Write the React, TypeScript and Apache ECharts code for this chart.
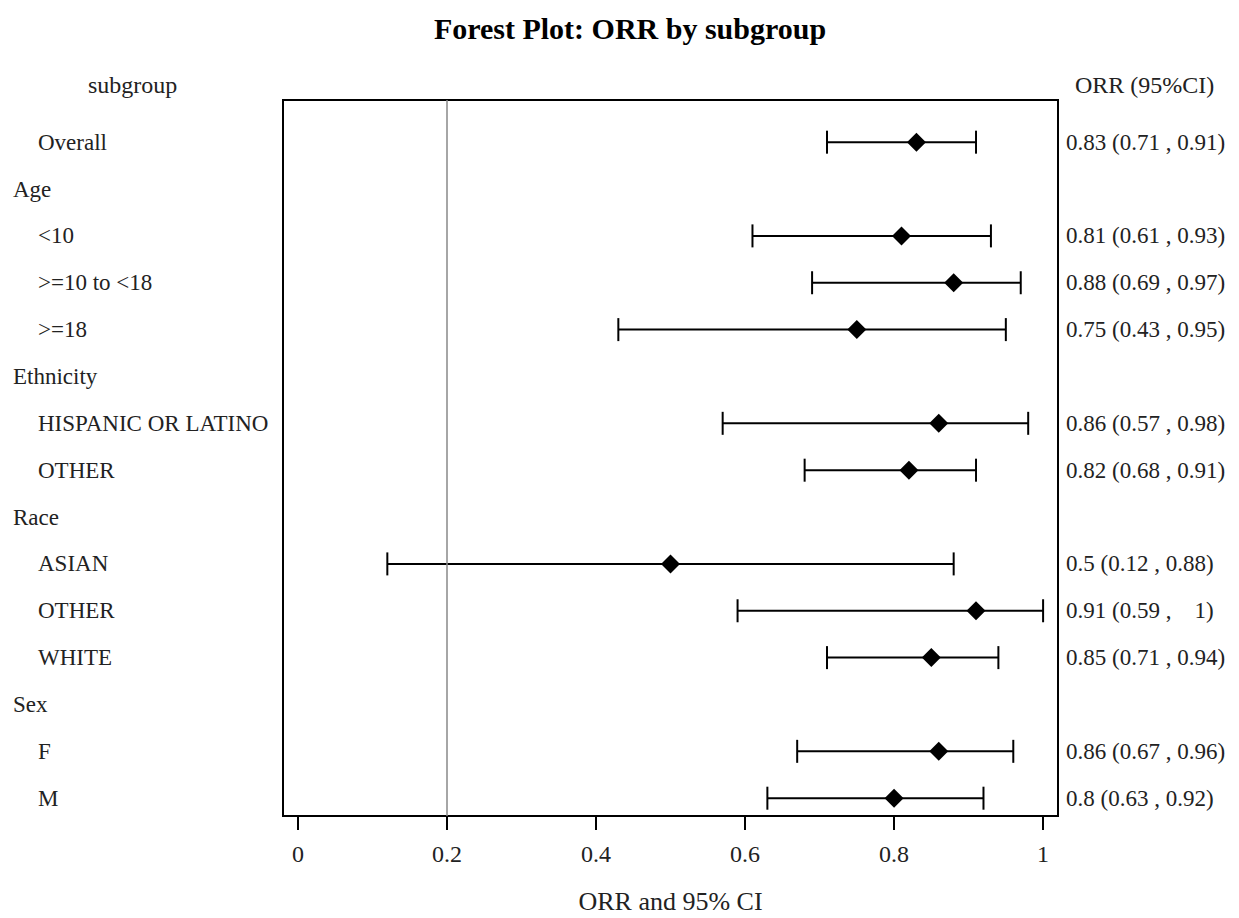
import React, { useEffect, useRef } from "react";
import * as echarts from "echarts";

const rowLabels = [
  "Overall", "Age", "<10", ">=10 to <18", ">=18",
  "Ethnicity", "HISPANIC OR LATINO", "OTHER",
  "Race", "ASIAN", "OTHER", "WHITE",
  "Sex", "F", "M",
];
const isHeader = [false, true, false, false, false, true, false, false, true, false, false, false, true, false, false];
const orr: (number | null)[] = [0.83, null, 0.81, 0.88, 0.75, null, 0.86, 0.82, null, 0.5, 0.91, 0.85, null, 0.86, 0.8];
const lower: (number | null)[] = [0.71, null, 0.61, 0.69, 0.43, null, 0.57, 0.68, null, 0.12, 0.59, 0.71, null, 0.67, 0.63];
const upper: (number | null)[] = [0.91, null, 0.93, 0.97, 0.95, null, 0.98, 0.91, null, 0.88, 1, 0.94, null, 0.96, 0.92];
const xTicks = [0, 0.2, 0.4, 0.6, 0.8, 1];
const refLine = 0.2;

const NB = "\u00a0";
const ciText = orr.map((e, i) =>
  e == null
    ? ""
    : `${e}${NB}(${lower[i]}${NB},${NB}${String(upper[i]).padStart(4, NB)})`
);

const rowIdx = rowLabels.map((_, i) => i);
const FONT = "'Liberation Serif', 'Times New Roman', serif";
const TXT = "#222";

export default function App() {
  const ref = useRef<HTMLDivElement>(null);
  useEffect(() => {
    document.body.style.margin = "0";
    const chart = echarts.init(ref.current!, null, { renderer: "svg" });
    const barData: number[][] = [];
    const ptData: number[][] = [];
    orr.forEach((e, i) => {
      if (e != null) {
        barData.push([i, lower[i] as number, upper[i] as number]);
        ptData.push([e, i]);
      }
    });
    chart.setOption({
      animation: false,
      backgroundColor: "#fff",
      textStyle: { fontFamily: FONT },
      title: [
        {
          text: "Forest Plot: ORR by subgroup",
          left: 625,
          top: 8,
          textAlign: "center",
          textStyle: { fontFamily: FONT, fontSize: 30, fontWeight: "bold", color: "#000" },
        },
        {
          text: "subgroup",
          left: 83,
          top: 68,
          textStyle: { fontFamily: FONT, fontSize: 24, fontWeight: "normal", color: TXT },
        },
        {
          text: "ORR (95%CI)",
          left: 1070,
          top: 68,
          textStyle: { fontFamily: FONT, fontSize: 24, fontWeight: "normal", color: TXT },
        },
      ],
      grid: {
        left: 283,
        top: 100,
        width: 775,
        height: 716,
        show: true,
        borderColor: "#000",
        borderWidth: 2,
        backgroundColor: "transparent",
        outerBoundsMode: "none",
        containLabel: false,
      },
      xAxis: {
        type: "value",
        min: -0.02,
        max: 1.02,
        name: "ORR and 95% CI",
        nameLocation: "middle",
        nameGap: 72,
        nameTextStyle: { fontFamily: FONT, fontSize: 26, color: TXT },
        axisLine: { show: false, onZero: false },
        axisTick: {
          show: true,
          customValues: xTicks,
          length: 14,
          lineStyle: { color: "#000", width: 2 },
        },
        axisLabel: {
          customValues: xTicks,
          margin: 26,
          fontFamily: FONT,
          fontSize: 24,
          color: TXT,
          formatter: (v: number) => String(Math.round(v * 10) / 10),
        },
        splitLine: { show: false },
      },
      yAxis: [
        {
          type: "value",
          inverse: true,
          min: -0.9,
          max: 14.38,
          axisLine: { show: false, onZero: false },
          axisTick: { show: false },
          splitLine: { show: false },
          axisLabel: {
            customValues: rowIdx,
            align: "left",
            margin: 270,
            fontFamily: FONT,
            fontSize: 23,
            color: TXT,
            formatter: (v: number) => {
              const i = Math.round(v);
              return isHeader[i] ? `{h|${rowLabels[i]}}` : `{c|${rowLabels[i]}}`;
            },
            rich: {
              h: { fontFamily: FONT, fontSize: 23, color: TXT },
              c: { fontFamily: FONT, fontSize: 23, color: TXT, padding: [0, 0, 0, 25] },
            },
          },
        },
        {
          type: "value",
          inverse: true,
          position: "right",
          min: -0.9,
          max: 14.38,
          axisLine: { show: false, onZero: false },
          axisTick: { show: false },
          splitLine: { show: false },
          axisLabel: {
            customValues: rowIdx,
            align: "left",
            margin: 8,
            fontFamily: FONT,
            fontSize: 23,
            color: TXT,
            formatter: (v: number) => ciText[Math.round(v)] || "",
          },
        },
      ],
      series: [
        {
          type: "custom",
          data: barData,
          encode: { x: [1, 2], y: 0 },
          renderItem: (params: any, api: any) => {
            const i = api.value(0);
            const p1 = api.coord([api.value(1), i]);
            const p2 = api.coord([api.value(2), i]);
            const h = 11.5;
            const st = { stroke: "#000", lineWidth: 2 };
            return {
              type: "group",
              children: [
                { type: "line", shape: { x1: p1[0], y1: p1[1], x2: p2[0], y2: p2[1] }, style: st },
                { type: "line", shape: { x1: p1[0], y1: p1[1] - h, x2: p1[0], y2: p1[1] + h }, style: st },
                { type: "line", shape: { x1: p2[0], y1: p2[1] - h, x2: p2[0], y2: p2[1] + h }, style: st },
              ],
            };
          },
          markLine: {
            silent: true,
            symbol: "none",
            label: { show: false },
            lineStyle: { color: "#888", width: 1.5, type: "solid" },
            data: [{ xAxis: refLine }],
          },
          z: 2,
        },
        {
          type: "scatter",
          data: ptData,
          symbol: "diamond",
          symbolSize: 19,
          itemStyle: { color: "#000", opacity: 1 },
          z: 3,
        },
      ],
    });
    return () => chart.dispose();
  }, []);
  return <div ref={ref} style={{ width: 1239, height: 918 }} />;
}
